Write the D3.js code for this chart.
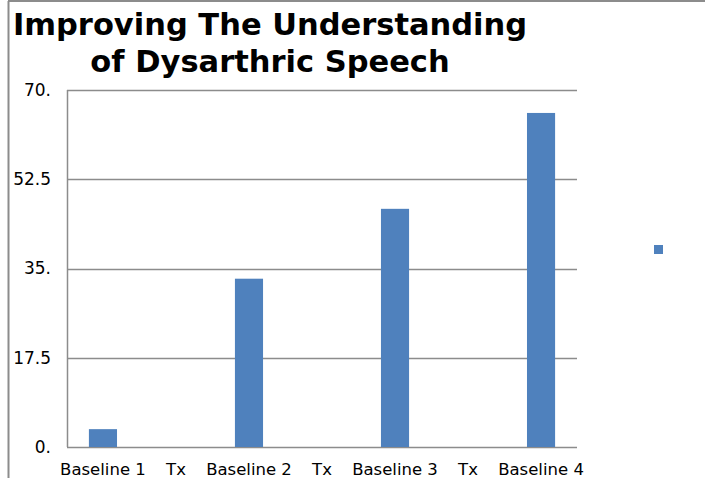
<!DOCTYPE html>
<html>
<head>
<meta charset="utf-8">
<script src="https://cdn.jsdelivr.net/npm/d3@7"></script>
<style>
  body { margin: 0; background: #fff; }
  text { font-family: "DejaVu Sans", Verdana, sans-serif; }
</style>
</head>
<body>
<div id="chart"></div>
<script>
// data
var categories = ["Baseline 1", "Tx", "Baseline 2", "Tx ", "Baseline 3", "Tx  ", "Baseline 4"];
var values = [3.5, null, 33, null, 46.7, null, 65.5];
var yTicks = [0, 17.5, 35, 52.5, 70];
var yTickLabels = ["0.", "17.5", "35.", "52.5", "70."];
var titleLines = ["Improving The Understanding", "of Dysarthric Speech"];

var width = 705,
    height = 478;
var margin = {top: 90, right: 128, bottom: 31, left: 67};

var svg = d3.select("#chart").append("svg")
    .attr("width", width)
    .attr("height", height);

// outer frame (left + top edges visible)
svg.append("line")
    .attr("x1", 8.5).attr("x2", 8.5).attr("y1", 1).attr("y2", height)
    .attr("stroke", "#8c8c8c").attr("stroke-width", 2);
svg.append("line")
    .attr("x1", 8).attr("x2", width).attr("y1", 1).attr("y2", 1)
    .attr("stroke", "#8c8c8c").attr("stroke-width", 2);

var x = d3.scaleBand()
    .domain(categories)
    .range([margin.left, width - margin.right])
    .paddingInner(0.615)
    .paddingOuter(0.3);

var y = d3.scaleLinear()
    .domain([0, 70])
    .range([height - margin.bottom, margin.top]);

// gridlines
svg.append("g")
  .selectAll("line")
  .data(yTicks)
  .enter().append("line")
    .attr("x1", margin.left)
    .attr("x2", width - margin.right)
    .attr("y1", function(d) { return Math.round(y(d)) + 0.5; })
    .attr("y2", function(d) { return Math.round(y(d)) + 0.5; })
    .attr("stroke", "#8c8c8c")
    .attr("stroke-width", 1.5);

// y axis line
svg.append("line")
    .attr("x1", margin.left + 0.5).attr("x2", margin.left + 0.5)
    .attr("y1", y(70)).attr("y2", y(0))
    .attr("stroke", "#8c8c8c").attr("stroke-width", 1.5);

// bars
svg.append("g")
  .selectAll("rect")
  .data(categories.map(function(c, i) { return {key: c, value: values[i]}; })
          .filter(function(d) { return d.value != null; }))
  .enter().append("rect")
    .attr("x", function(d) { return x(d.key); })
    .attr("width", x.bandwidth())
    .attr("y", function(d) { return y(d.value); })
    .attr("height", function(d) { return y(0) - y(d.value); })
    .attr("fill", "#4f81bd");

// y tick labels
svg.append("g")
  .selectAll("text")
  .data(yTicks)
  .enter().append("text")
    .attr("x", 51)
    .attr("y", function(d) { return y(d); })
    .attr("dy", "0.35em")
    .attr("text-anchor", "end")
    .style("font-size", "17px")
    .style("fill", "#000")
    .text(function(d, i) { return yTickLabels[i]; });

// x labels
svg.append("g")
  .selectAll("text")
  .data(categories)
  .enter().append("text")
    .attr("x", function(d) { return x(d) + x.bandwidth() / 2; })
    .attr("y", height - 3)
    .attr("text-anchor", "middle")
    .style("font-size", "16.5px")
    .text(function(d) { return d.trim(); });

// title
svg.append("g")
  .selectAll("text")
  .data(titleLines)
  .enter().append("text")
    .attr("x", 270)
    .attr("y", function(d, i) { return 35 + i * 37; })
    .attr("text-anchor", "middle")
    .style("font-size", "30.5px")
    .style("font-weight", "bold")
    .text(function(d) { return d; });

// legend marker
svg.append("rect")
    .attr("x", 654).attr("y", 245)
    .attr("width", 9).attr("height", 9)
    .attr("fill", "#4f81bd");
</script>
</body>
</html>
